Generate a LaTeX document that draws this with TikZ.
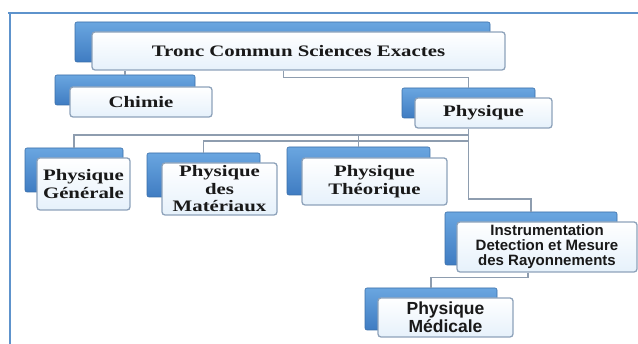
\documentclass[tikz,border=0pt]{standalone}
\usepackage{fontspec}
\setmainfont{Liberation Serif}
\newfontfamily\wideserif{Liberation Serif}[FakeStretch=1.3]
\newfontfamily\sansb{Liberation Sans}
\definecolor{backtop}{HTML}{6AA6E0}
\definecolor{backbot}{HTML}{3F7CC2}
\definecolor{backedge}{HTML}{3A6EA8}
\definecolor{frontedge}{HTML}{8DA2BA}
\definecolor{frontbot}{HTML}{E6F1FB}
\definecolor{linkcol}{HTML}{8E9DAF}
\definecolor{framecol}{HTML}{5E93CC}
\tikzset{
  back/.style={draw=backedge, line width=0.6pt, rounded corners=2pt, top color=backtop, bottom color=backbot, inner sep=0pt},
  front/.style={draw=frontedge, line width=1.3pt, rounded corners=3pt, top color=white, bottom color=frontbot, inner sep=0pt, align=center, text=black!90},
  serifbig/.style={font=\wideserif\bfseries\fontsize{16}{17.5}\selectfont},
  sansmid/.style={font=\sansb\bfseries\fontsize{15}{15}\selectfont},
  sansbig/.style={font=\sansb\bfseries\fontsize{17.5}{18}\selectfont},
  link/.style={draw=linkcol, line width=1.6pt},
  framel/.style={draw=framecol, line width=2.2pt},
}
\begin{document}
\begin{tikzpicture}[x=1pt,y=-1pt]
\useasboundingbox (0,0) rectangle (638,344);
% frame
\draw[framel] (8,13) -- (638,13);
\draw[framel] (10,13) -- (10,344);
% Tronc commun
\node[back, minimum width=415pt, minimum height=40pt] (tb) at (282.5,42) {};
\node[front, serifbig, minimum width=413pt, minimum height=38pt] (tf) at (298.5,51) {Tronc Commun Sciences Exactes};
% Chimie
\node[back, minimum width=140pt, minimum height=30pt] (cb) at (125,90) {};
\node[front, serifbig, minimum width=142pt, minimum height=30pt] (cf) at (141,102) {Chimie};
% Physique
\node[back, minimum width=133pt, minimum height=30pt] (pb) at (468.5,103) {};
\node[front, serifbig, minimum width=137pt, minimum height=30pt] (pf) at (483.5,113) {Physique};
% Physique Generale
\node[back, minimum width=98pt, minimum height=44pt] (gb) at (74,170) {};
\node[front, serifbig, minimum width=93pt, minimum height=52pt] (gf) at (83.5,184) {Physique\\Générale};
% Physique des Materiaux
\node[back, minimum width=113pt, minimum height=44pt] (mb) at (203.5,175) {};
\node[front, serifbig, minimum width=115pt, minimum height=52pt] (mf) at (219.5,189) {Physique\\des\\Matériaux};
% Physique Theorique
\node[back, minimum width=143pt, minimum height=48pt] (tqb) at (358.5,171) {};
\node[front, serifbig, minimum width=145pt, minimum height=47pt] (tqf) at (374.5,181.5) {Physique\\Théorique};
% Instrumentation
\node[back, minimum width=172pt, minimum height=53pt] (ib) at (531,238.5) {};
\node[front, sansmid, minimum width=180pt, minimum height=50pt] (if) at (547,247) {Instrumentation\\Detection et Mesure\\des Rayonnements};
% Physique Medicale
\node[back, minimum width=132pt, minimum height=42pt] (db) at (431,309) {};
\node[front, sansbig, minimum width=135pt, minimum height=39pt] (df) at (445.5,317.5) {Physique\\Médicale};
% connectors
\draw[link] (cb.north) -- (cb.north |- tf.south);
\coordinate (t1) at ([xshift=-15pt]tf.south);
\draw[link] (t1) -- ++(0,7) -| (pb.north);
\coordinate (h1) at (pb.north |- 0,135);
\coordinate (h2) at (pb.north |- 0,141);
\coordinate (h3) at (pb.north |- 0,199);
\draw[link] (pb.north |- pf.south) -- (h3) -| (ib.north);
\draw[link] (gb.north) |- (h1);
\draw[link] (mb.north) |- (h2);
\draw[link] (tqb.north) -- (tqb.north |- h1);
\coordinate (i1) at ([xshift=-19pt]if.south);
\draw[link] (i1) -- ++(0,5) -| (db.north);
\end{tikzpicture}
\end{document}
